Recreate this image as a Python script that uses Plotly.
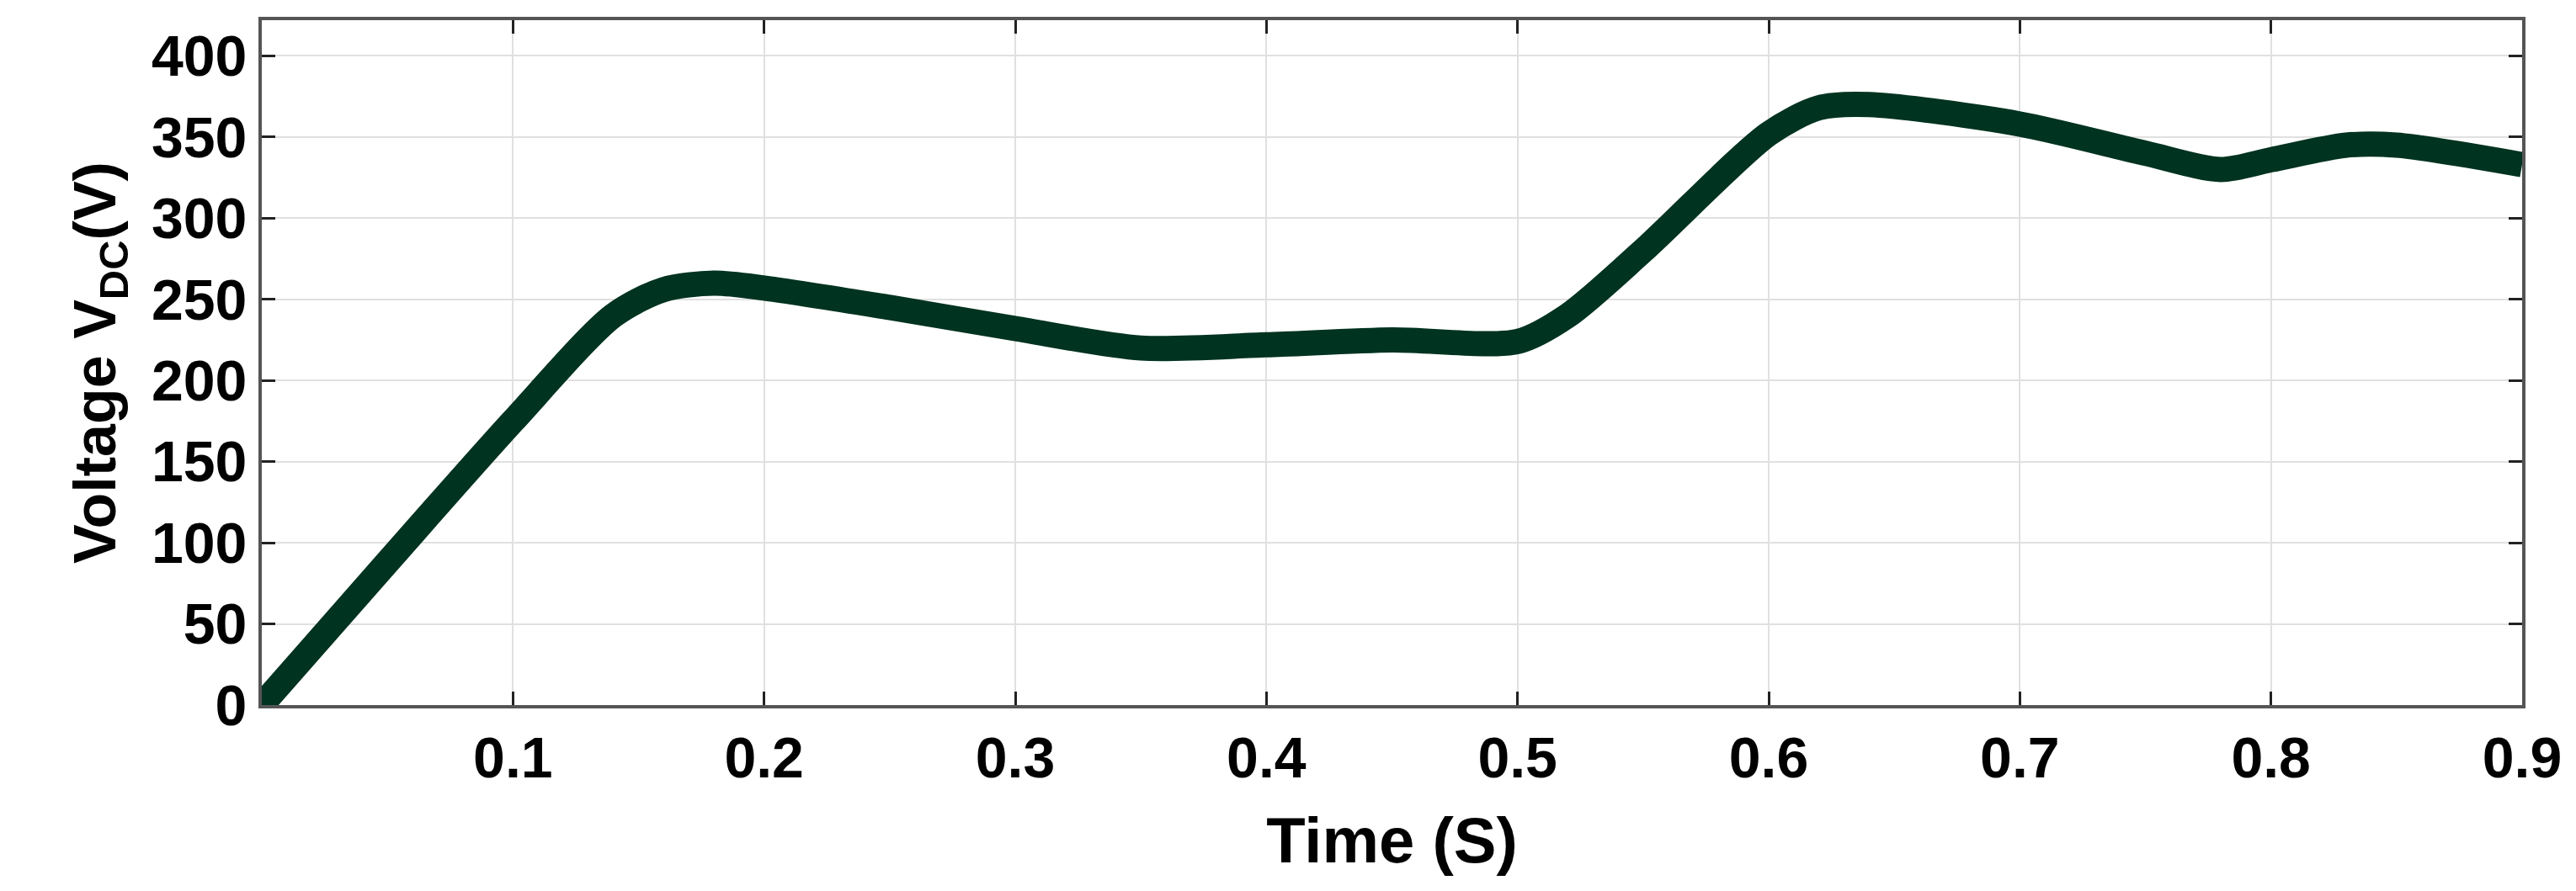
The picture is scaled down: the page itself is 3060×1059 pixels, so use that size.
import plotly.graph_objects as go

time_s = [0.0, 0.05, 0.1, 0.14, 0.16, 0.18, 0.2, 0.25, 0.3, 0.35, 0.4, 0.45, 0.5,
          0.52, 0.55, 0.6, 0.62, 0.64, 0.7, 0.75, 0.78, 0.8, 0.83, 0.85, 0.9]
vdc = [0, 88, 175, 240, 256, 260, 257, 245, 232, 220, 222, 225, 224,
       240, 280, 352, 368, 370, 358, 340, 330, 336, 345, 345, 333]

x_ticks = [0.1, 0.2, 0.3, 0.4, 0.5, 0.6, 0.7, 0.8, 0.9]
y_ticks = [0, 50, 100, 150, 200, 250, 300, 350, 400]

fig = go.Figure()
fig.add_trace(go.Scatter(
    x=time_s, y=vdc, mode='lines',
    line=dict(color='#003320', width=30, shape='spline', smoothing=0.8),
))

axis_font = dict(family='Liberation Sans', size=68, color='black')
fig.update_layout(
    width=3060, height=1059,
    margin=dict(l=303, r=72, t=16, b=229),
    plot_bgcolor='white', paper_bgcolor='white',
    showlegend=False,
    font=dict(family='Liberation Sans', color='black'),
)
fig.update_xaxes(
    range=[0, 0.9], tickvals=x_ticks, ticktext=[f'<b>{v}</b>' for v in x_ticks],
    tickfont=axis_font, showgrid=True, gridcolor='#e0e0e0', gridwidth=2,
    showline=True, linecolor='#555', linewidth=4, mirror='ticks',
    ticks='inside', ticklen=16, tickwidth=3, tickcolor='#222',
    title=dict(text='<b>Time (S)</b>', font=dict(family='Liberation Sans', size=76), standoff=36),
    zeroline=False,
)
fig.update_yaxes(
    range=[0, 422], tickvals=y_ticks, ticktext=[f'<b>{v}</b>' for v in y_ticks],
    tickfont=axis_font, showgrid=True, gridcolor='#e0e0e0', gridwidth=2,
    showline=True, linecolor='#555', linewidth=4, mirror='ticks',
    ticks='inside', ticklen=16, tickwidth=3, tickcolor='#222',
    title=dict(text='<b>Voltage V<sub>DC</sub>(V)</b>', font=dict(family='Liberation Sans', size=70), standoff=20),
    zeroline=False,
)

fig.write_html("out.html")
